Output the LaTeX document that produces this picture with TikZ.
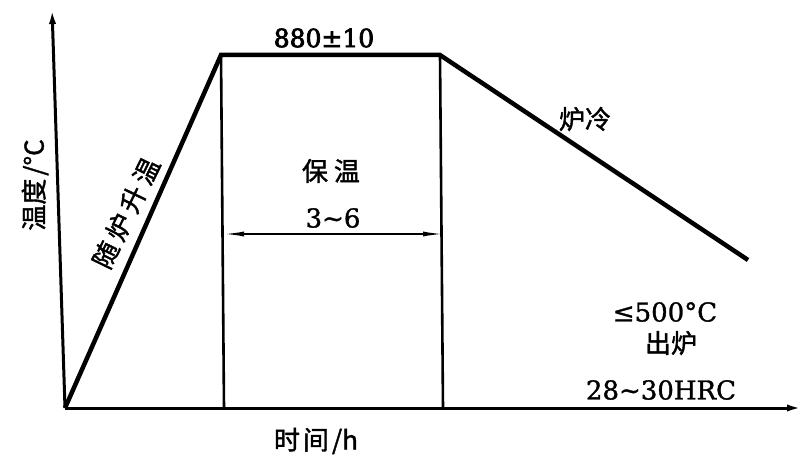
\documentclass[tikz,border=0pt]{standalone}
\usepackage{fontspec}
\setmainfont{DejaVu Serif}[FakeBold=1.2]
\newfontfamily\numfont{DejaVu Serif}[FakeBold=1.2]
\newfontfamily\numbold{DejaVu Serif}[FakeBold=3]
\newfontfamily\cjk{Noto Sans CJK SC}[FakeBold=1.5]
\usetikzlibrary{arrows.meta}
\begin{document}
\begin{tikzpicture}[x=1pt,y=-1pt,
  axis/.style={line width=3pt,-{Latex[length=16pt,width=7pt]}},
  curve/.style={line width=4.5pt,line join=miter},
  thin/.style={line width=2.6pt},
  lab/.style={font=\fontsize{26}{30}\numfont,inner sep=0pt},
  cjklab/.style={font=\fontsize{26}{30}\cjk,inner sep=0pt}]
\useasboundingbox (0,0) rectangle (804,465);
% key points
\coordinate (O) at (65,408);
\coordinate (Ytop) at (52,8);
\coordinate (Xend) at (803,408);
\coordinate (A) at (221,55);
\coordinate (B) at (440,55);
\coordinate (C) at (748,260);
\coordinate (Abot) at (224,408);
\coordinate (Bbot) at (443,408);
\coordinate (D1) at (224,234);
\coordinate (D2) at (443,234);
% axes
\draw[axis] (O) -- (Ytop);
\draw[axis] (O) -- (Xend);
% process curve
\draw[curve] (O) -- (A) -- (B) -- (C);
% verticals
\draw[thin] (A) -- (Abot);
\draw[thin] (B) -- (Bbot);
% dimension
\draw[line width=1.6pt,{Latex[length=20pt,width=5pt]}-{Latex[length=20pt,width=5pt]}] (D1) -- (D2);
% labels
\node[lab,font=\fontsize{25}{30}\numbold] (t880) at (324,38) {880±10};
\node[cjklab] (baowen) at (331,171) {保\hspace{6pt}温};
\node[lab] (t36) at (333,218) {3\textasciitilde 6};
\node[cjklab] (luleng) at (585,119) {炉冷};
\node[lab] (t500) at (665,312) {≤500°C};
\node[cjklab] (chulu) at (671,343) {出炉};
\node[lab] (hrc) at (661,390) {28\textasciitilde 30HRC};
\node[cjklab,rotate=90] (wendu) at (35,185) {温度\hspace{3pt}/°C};
\node[cjklab,rotate=64] (suilu) at (126,213) {随\hspace{5pt}炉\hspace{5pt}升\hspace{5pt}温};
\node[cjklab] (shijian) at (316,441) {时\hspace{3pt}间\hspace{3pt}/h};
\end{tikzpicture}
\end{document}
